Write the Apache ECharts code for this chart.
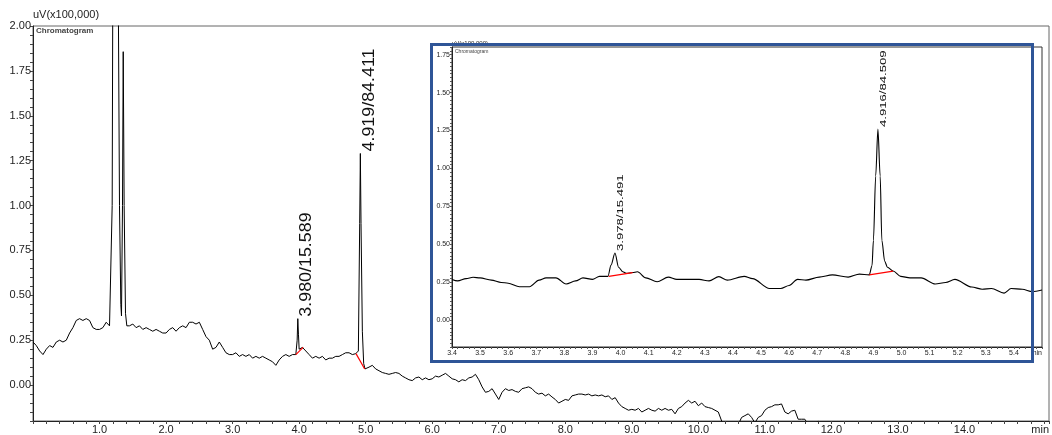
<!DOCTYPE html>
<html><head><meta charset="utf-8">
<script src="https://cdn.jsdelivr.net/npm/echarts@6/dist/echarts.min.js"></script>
<style>html,body{margin:0;padding:0;background:#fff}#c{width:1052px;height:435px}</style>
</head><body><div id="c"></div>
<script>
// ---- main chromatogram (time in min, signal in uV x100,000) ----
const mainTimes = [0,0.05,0.1,0.15,0.2,0.25,0.3,0.35,0.4,0.45,0.5,0.55,0.6,0.65,0.7,0.75,0.8,0.85,0.9,0.95,
  1.0,1.05,1.1,1.15,1.18,1.19,1.2,1.24,1.28,1.3,1.32,1.33,1.345,1.356,1.37,1.39,1.41,1.45,1.5,1.55,1.6,1.65,1.7,1.75,1.8,1.85,1.9,1.95,
  2.0,2.05,2.1,2.15,2.2,2.25,2.3,2.35,2.4,2.45,2.5,2.55,2.6,2.65,2.7,2.75,2.8,2.85,2.9,2.95,
  3.0,3.05,3.1,3.15,3.2,3.25,3.3,3.35,3.4,3.45,3.5,3.55,3.6,3.65,3.7,3.75,3.8,3.85,3.9,3.95,3.97,3.98,3.99,
  4.0,4.03,4.05,4.07,4.1,4.15,4.2,4.25,4.3,4.35,4.4,4.45,4.5,4.55,4.6,4.65,4.7,4.75,4.8,4.85,4.89,4.91,4.92,4.93,4.95,4.97,4.99,
  5.05,5.1,5.15,5.2,5.25,5.3,5.35,5.4,5.45,5.5,5.55,5.6,5.65,5.7,5.75,5.8,5.85,5.9,5.95,
  6.0,6.05,6.1,6.15,6.2,6.25,6.3,6.35,6.4,6.45,6.5,6.55,6.6,6.65,6.7,6.75,6.8,6.85,6.9,6.95,
  7.0,7.05,7.1,7.15,7.2,7.25,7.3,7.35,7.4,7.45,7.5,7.55,7.6,7.65,7.7,7.75,7.8,7.85,7.9,7.95,
  8.0,8.05,8.1,8.15,8.2,8.25,8.3,8.35,8.4,8.45,8.5,8.55,8.6,8.65,8.7,8.75,8.8,8.85,8.9,8.95,
  9.0,9.05,9.1,9.15,9.2,9.25,9.3,9.35,9.4,9.45,9.5,9.55,9.6,9.65,9.7,9.75,9.8,9.85,9.9,9.95,
  10.0,10.05,10.1,10.15,10.2,10.25,10.3,10.35,10.4,10.5,10.6,10.65,10.7,10.75,10.8,10.85,10.9,10.95,
  11.0,11.05,11.1,11.15,11.2,11.25,11.3,11.35,11.4,11.45,11.5,11.55,11.6,11.65,11.7,11.8,11.85,11.9,
  12.0,12.5,13.0,14.0,15.0,15.27];
const mainValues = [0.24,0.22,0.19,0.17,0.20,0.22,0.21,0.24,0.25,0.24,0.25,0.29,0.32,0.36,0.37,0.36,0.37,0.36,0.32,0.31,
  0.31,0.32,0.35,0.33,0.33,1.0,2.3,2.9,2.3,1.0,0.45,0.385,1.0,1.857,1.0,0.40,0.33,0.33,0.34,0.32,0.33,0.31,0.32,0.31,0.30,0.31,0.30,0.29,
  0.29,0.31,0.32,0.30,0.32,0.33,0.32,0.35,0.35,0.34,0.35,0.31,0.27,0.25,0.20,0.21,0.24,0.21,0.18,0.17,
  0.17,0.18,0.16,0.17,0.16,0.17,0.15,0.16,0.15,0.16,0.15,0.14,0.13,0.11,0.14,0.16,0.17,0.16,0.17,0.17,0.25,0.37,0.28,
  0.20,0.21,0.21,0.21,0.19,0.17,0.15,0.16,0.15,0.16,0.14,0.15,0.15,0.16,0.16,0.17,0.18,0.18,0.17,0.175,0.19,0.9,1.29,0.9,0.3,0.12,0.09,
  0.10,0.11,0.09,0.08,0.07,0.065,0.06,0.065,0.07,0.065,0.05,0.04,0.03,0.025,0.04,0.045,0.03,0.04,0.03,
  0.035,0.05,0.045,0.055,0.065,0.05,0.035,0.03,0.018,0.03,0.025,0.04,0.045,0.06,0.03,-0.01,-0.04,-0.035,-0.02,-0.05,
  -0.08,-0.04,-0.02,-0.03,-0.025,-0.035,-0.04,-0.02,-0.015,-0.01,-0.02,-0.04,-0.05,-0.045,-0.06,-0.05,-0.066,-0.08,-0.10,-0.09,
  -0.08,-0.085,-0.06,-0.055,-0.05,-0.05,-0.055,-0.05,-0.06,-0.055,-0.06,-0.055,-0.065,-0.06,-0.08,-0.07,-0.10,-0.12,-0.13,-0.14,
  -0.135,-0.14,-0.13,-0.15,-0.14,-0.13,-0.14,-0.145,-0.13,-0.14,-0.13,-0.14,-0.135,-0.16,-0.13,-0.12,-0.10,-0.085,-0.10,-0.09,
  -0.115,-0.10,-0.12,-0.125,-0.13,-0.14,-0.15,-0.20,-0.23,-0.24,-0.22,-0.18,-0.17,-0.16,-0.18,-0.21,-0.18,-0.17,
  -0.14,-0.125,-0.12,-0.11,-0.11,-0.105,-0.15,-0.16,-0.145,-0.14,-0.19,-0.19,-0.19,-0.22,-0.23,-0.20,-0.22,-0.24,
  -0.26,-0.30,-0.32,-0.35,-0.38,-0.39];
const mainBaselines = [[[3.95,0.17],[4.06,0.21]], [[4.855,0.175],[4.985,0.09]]];
const mainPeakTimes = [3.98, 4.92];
const mainPeakHeights = [0.37, 1.29];
const mainPeakLabels = ['3.980/15.589', '4.919/84.411'];

// ---- inset (zoom 3.4 - 5.5 min) ----
const insetTimes = [3.4,3.42,3.45,3.475,3.5,3.54,3.575,3.6,3.64,3.676,3.71,3.735,3.77,3.806,3.84,3.866,3.9,3.925,3.955,3.966,3.98,3.993,
  4.008,4.02,4.043,4.06,4.09,4.13,4.17,4.2,4.23,4.28,4.315,4.35,4.38,4.44,4.47,4.53,4.57,4.6,4.63,4.66,4.707,4.754,4.81,4.85,4.885,
  4.895,4.9,4.908,4.916,4.924,4.93,4.94,4.95,4.97,4.997,5.03,5.07,5.12,5.157,5.19,5.25,5.287,5.32,5.365,5.39,5.43,5.465,5.5];
const insetValues = [0.27,0.26,0.275,0.284,0.28,0.265,0.25,0.245,0.222,0.222,0.265,0.28,0.28,0.24,0.26,0.28,0.27,0.29,0.29,0.364,0.444,0.35,
  0.32,0.31,0.315,0.32,0.28,0.255,0.285,0.27,0.27,0.27,0.26,0.288,0.265,0.29,0.275,0.21,0.21,0.23,0.27,0.265,0.285,0.30,0.285,0.305,0.30,
  0.36,0.527,0.95,1.26,0.95,0.527,0.39,0.35,0.325,0.29,0.28,0.28,0.24,0.25,0.27,0.22,0.205,0.21,0.18,0.21,0.205,0.19,0.20];
const insetBaselines = [[[3.958,0.29],[4.043,0.315]], [[4.885,0.30],[4.97,0.325]]];
const insetPeakTimes = [3.98, 4.916];
const insetPeakHeights = [0.444, 1.26];
const insetPeakLabels = ['3.978/15.491', '4.916/84.509'];

const yUnit = 'uV(x100,000)';
const chartTitle = 'Chromatogram';

const zip = (a, b) => a.map((t, i) => [t, b[i]]);
const FONT = '"Liberation Sans", Arial, sans-serif';
const near = (v, step) => Math.abs(v / step - Math.round(v / step)) < 1e-6;

const chart = echarts.init(document.getElementById('c'), null, {renderer: 'canvas'});

const lineSeries = (data, xi, color, w, z, smooth) => ({
  type: 'line', data, xAxisIndex: xi, yAxisIndex: xi, showSymbol: false, symbol: 'none',
  smooth: smooth || false, smoothMonotone: 'x',
  lineStyle: {color, width: w}, itemStyle: {color}, animation: false, clip: true, z, silent: true
});

const series = [
  lineSeries(zip(mainTimes, mainValues), 0, '#000', 1, 3),
  ...mainBaselines.map(b => lineSeries(b, 0, '#ff0000', 1.2, 4)),
  lineSeries(zip(insetTimes, insetValues), 1, '#000', 1.1, 6, 0.3),
  ...insetBaselines.map(b => lineSeries(b, 1, '#ff0000', 1.2, 7))
];

chart.setOption({
  backgroundColor: '#fff',
  animation: false,
  title: [
    {text: chartTitle, left: 36, top: 27, padding: 0, textStyle: {fontSize: 8, fontWeight: 'bold', color: '#444', fontFamily: FONT}},
    {text: chartTitle, left: 455, top: 49, padding: 0, textStyle: {fontSize: 5, fontWeight: 'normal', color: '#444', fontFamily: FONT}}
  ],
  grid: [
    {left: 33, right: 1, top: 26, bottom: 13, show: true, borderColor: '#666', borderWidth: 1, backgroundColor: '#fff', z: 0},
    {left: 452, top: 47, width: 590, height: 300, show: true, borderColor: '#333', borderWidth: 1, backgroundColor: '#fff', z: 5}
  ],
  xAxis: [
    {type: 'value', gridIndex: 0, min: 0, max: 15.27, interval: 0.2,
     axisLine: {onZero: false, lineStyle: {color: '#222', width: 1}},
     axisTick: {show: true, length: 3, lineStyle: {color: '#444'}},
     splitLine: {show: false},
     axisLabel: {margin: 3, fontSize: 11, color: '#222', fontFamily: FONT,
       formatter: v => (near(v, 1) && v > 0.5 && v < 14.5) ? v.toFixed(1) : ''},
     name: 'min', nameLocation: 'end', nameGap: 0,
     nameTextStyle: {fontSize: 11, color: '#222', fontFamily: FONT, align: 'right', verticalAlign: 'top', padding: [3, 0, 0, 0]}},
    {type: 'value', gridIndex: 1, min: 3.4, max: 5.5, interval: 0.02, z: 6,
     axisLine: {onZero: false, lineStyle: {color: '#222', width: 1}},
     axisTick: {show: true, length: 2, lineStyle: {color: '#555'}},
     splitLine: {show: false},
     axisLabel: {margin: 3, fontSize: 7, color: '#222', fontFamily: FONT,
       formatter: v => (near(v, 0.1) && v < 5.45) ? v.toFixed(1) : ''},
     name: 'min', nameLocation: 'end', nameGap: 0,
     nameTextStyle: {fontSize: 7, color: '#222', fontFamily: FONT, align: 'right', verticalAlign: 'top', padding: [3, 0, 0, 0]}}
  ],
  yAxis: [
    {type: 'value', gridIndex: 0, min: -0.2, max: 2.0, interval: 0.05,
     axisLine: {show: true, onZero: false, lineStyle: {color: '#222', width: 1}},
     axisTick: {show: true, length: 3, lineStyle: {color: '#444'}},
     splitLine: {show: false},
     axisLabel: {margin: 2, fontSize: 11, color: '#222', fontFamily: FONT,
       formatter: v => (near(v, 0.25) && v > -0.01) ? v.toFixed(2) : ''},
     name: yUnit, nameLocation: 'end', nameGap: 1,
     nameTextStyle: {fontSize: 11, color: '#222', fontFamily: FONT, align: 'left'}},
    {type: 'value', gridIndex: 1, min: -0.175, max: 1.8, interval: 0.025, z: 6,
     axisLine: {show: true, onZero: false, lineStyle: {color: '#222', width: 1}},
     axisTick: {show: true, length: 2, lineStyle: {color: '#555'}},
     splitLine: {show: false},
     axisLabel: {margin: 2, fontSize: 7, color: '#222', fontFamily: FONT,
       formatter: v => (near(v, 0.25) && v > -0.01) ? v.toFixed(2) : ''},
     name: yUnit, nameLocation: 'end', nameGap: 1,
     nameTextStyle: {fontSize: 6, color: '#222', fontFamily: FONT, align: 'left'}}
  ],
  series
});

// Peak annotations, placed via the axes' own scales
function peakText(gi, t, v, text, dx, dy, size, sx) {
  const p = chart.convertToPixel({xAxisIndex: gi, yAxisIndex: gi}, [t, v]);
  return {
    type: 'text', x: p[0] + dx, y: p[1] + dy, rotation: Math.PI / 2, scaleX: sx, z: 100,
    style: {text, fill: '#111', font: size + 'px ' + FONT, align: 'left', verticalAlign: 'middle',
            textAlign: 'left', textVerticalAlign: 'middle'}
  };
}
const graphics = [];
mainPeakTimes.forEach((t, i) => graphics.push(peakText(0, t, mainPeakHeights[i], mainPeakLabels[i], 8.5, -2, 17, 1.05)));
insetPeakTimes.forEach((t, i) => graphics.push(peakText(1, t, insetPeakHeights[i], insetPeakLabels[i], 5, -2, 9.5, 1.38)));
// blue frame around the inset
graphics.push({type: 'rect', z: 200, shape: {x: 431.5, y: 44.5, width: 601, height: 317},
  style: {fill: 'none', stroke: '#2F5597', lineWidth: 3}});
chart.setOption({graphic: graphics});
</script>
</body></html>
